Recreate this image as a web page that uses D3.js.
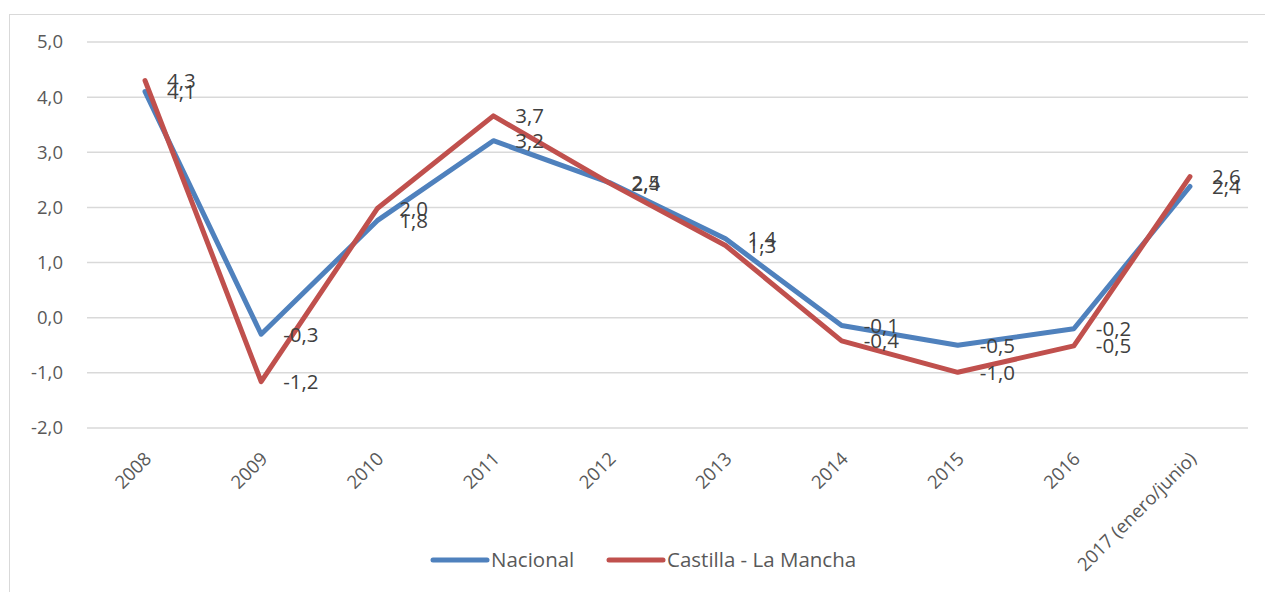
<!DOCTYPE html>
<html><head><meta charset="utf-8">
<script src="https://cdnjs.cloudflare.com/ajax/libs/d3/7.8.5/d3.min.js"></script>
<style>body{margin:0;background:#fff;}svg{display:block;font-family:"Open Sans", sans-serif;}</style>
</head><body>
<svg id="c" width="1265" height="592"></svg>
<script>
const categories = ["2008","2009","2010","2011","2012","2013","2014","2015","2016","2017 (enero/junio)"];
const nacional = [4.1,-0.3,1.76,3.21,2.45,1.43,-0.14,-0.5,-0.2,2.38];
const clm = [4.3,-1.16,1.98,3.66,2.44,1.31,-0.42,-0.99,-0.51,2.56];
const yTicks = [-2,-1,0,1,2,3,4,5];
const seriesNames = ["Nacional","Castilla - La Mancha"];
const colors = ["#4F81BD","#C0504D"];
const FONT = "'Open Sans', sans-serif";

const svg = d3.select("#c");
svg.append("rect").attr("x",9.5).attr("y",14.5).attr("width",1300).attr("height",600)
  .attr("fill","none").attr("stroke","#d9d9d9").attr("stroke-width",1);

const x = d3.scalePoint().domain(categories).range([87,1248]).padding(0.5);
const y = d3.scaleLinear().domain([-2,5]).range([428,42]);
const fmt = v => d3.format(".1f")(v).replace(".",",").replace("−","-");

// grid
svg.append("g").selectAll("line").data(yTicks).join("line")
  .attr("x1",87).attr("x2",1248).attr("y1",d=>y(d)).attr("y2",d=>y(d))
  .attr("stroke","#d9d9d9").attr("stroke-width",1.5);

// y axis
const ya = svg.append("g").attr("transform","translate(87,0)")
  .call(d3.axisLeft(y).tickValues(yTicks).tickSize(0).tickPadding(24).tickFormat(fmt));
ya.select(".domain").remove();
ya.selectAll("text").attr("fill","#595959").attr("font-size",18.5).attr("font-family",FONT);

// x axis labels
const xa = svg.append("g").attr("transform","translate(0,428)")
  .call(d3.axisBottom(x).tickSize(0).tickPadding(0));
xa.select(".domain").remove();
xa.selectAll("text").attr("fill","#595959").attr("font-size",18.5).attr("font-family",FONT)
  .attr("text-anchor","end").attr("dy",0).attr("y",0)
  .attr("transform","translate(7,32) rotate(-45)");

const series = [nacional, clm];
const line = d3.line().x((d,i)=>x(categories[i])).y(d=>y(d));
series.forEach((s,k)=>{
  svg.append("path").datum(s).attr("d",line).attr("fill","none")
    .attr("stroke",colors[k]).attr("stroke-width",5).attr("stroke-linejoin","round").attr("stroke-linecap","round");
});
series.forEach((s,k)=>{
  svg.append("g").selectAll("text").data(s).join("text")
    .attr("x",(d,i)=>x(categories[i])+22).attr("y",d=>y(d)).attr("dy","0.36em")
    .attr("fill","#404040").attr("font-size",20.5).attr("font-family",FONT)
    .text(d=>fmt(d));
});

// legend
const leg = [{x:433},{x:609}];
seriesNames.forEach((n,k)=>{
  svg.append("line").attr("x1",leg[k].x).attr("x2",leg[k].x+54).attr("y1",560).attr("y2",560)
    .attr("stroke",colors[k]).attr("stroke-width",5).attr("stroke-linecap","round");
  svg.append("text").attr("x",leg[k].x+58).attr("y",560).attr("dy","0.36em")
    .attr("fill","#595959").attr("font-size",20.5).attr("font-family",FONT).text(n);
});
</script>
</body></html>
